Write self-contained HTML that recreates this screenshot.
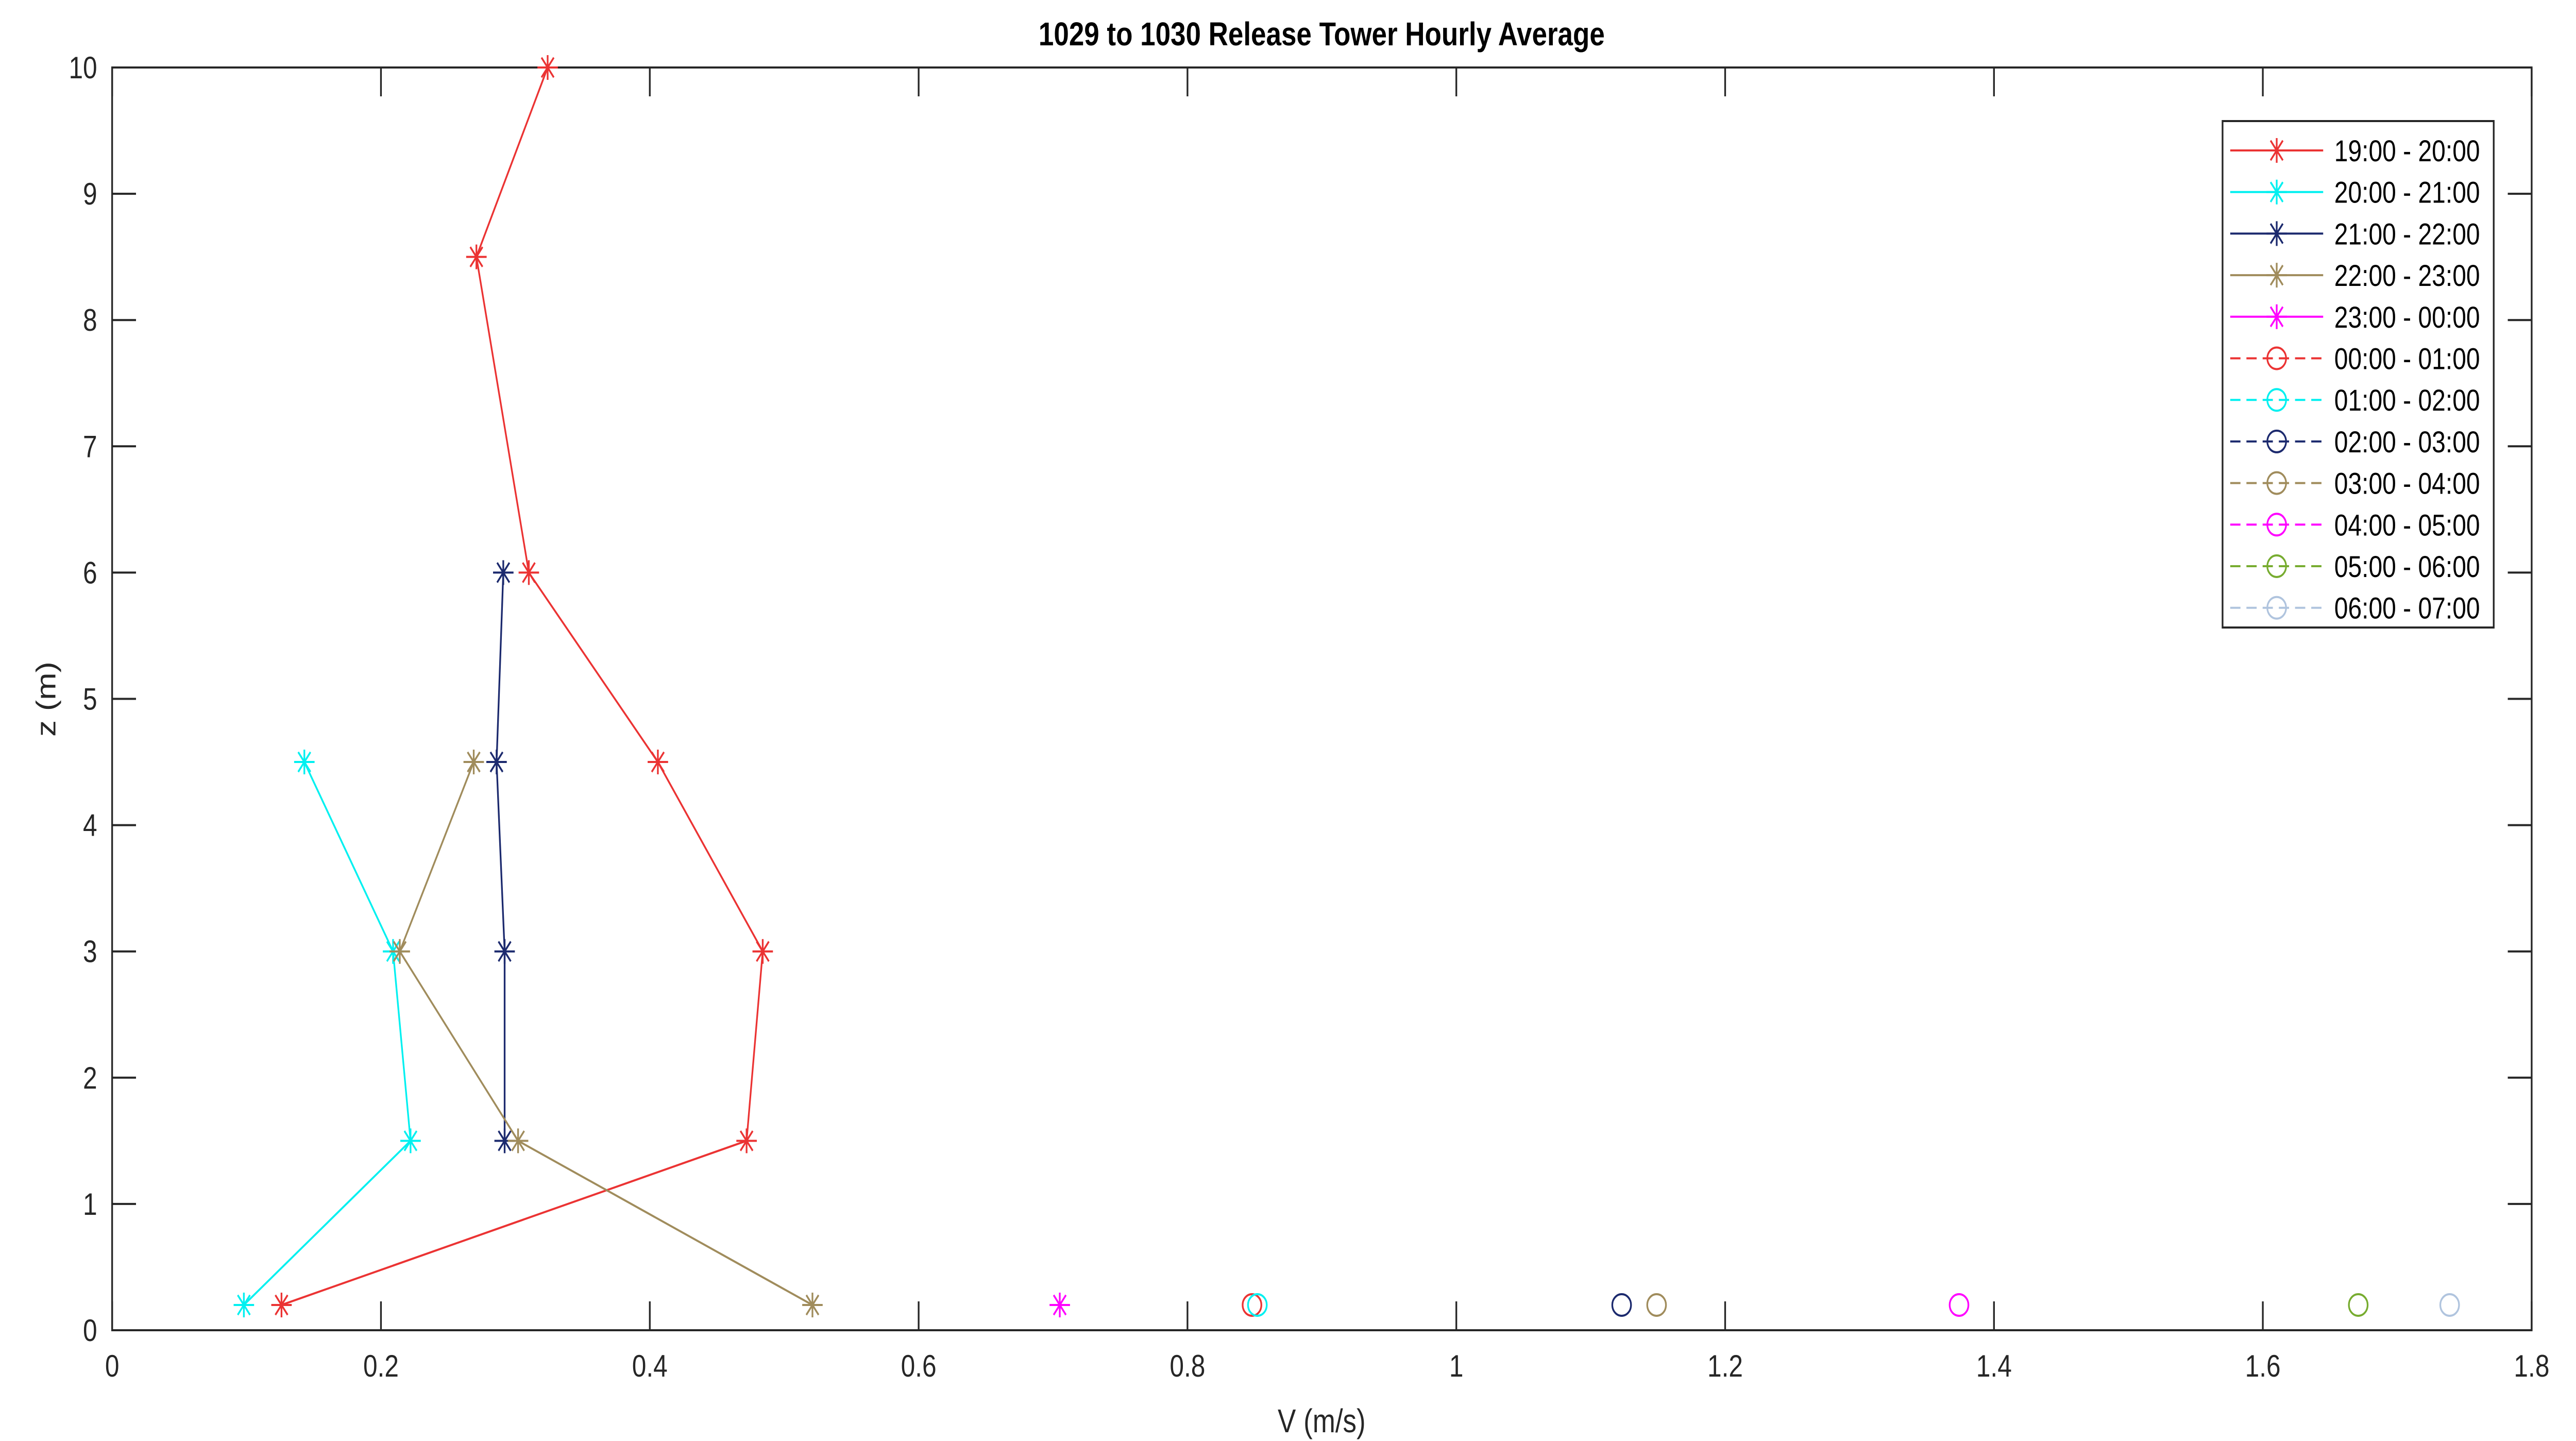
<!DOCTYPE html>
<html><head><meta charset="utf-8"><style>
html,body{margin:0;padding:0;background:#fff;overflow:hidden;width:100%;height:100%;}
svg{display:block;width:100vw;height:100vh;font-family:"Liberation Sans",Arial,sans-serif;}
</style></head><body>
<svg id="chart" viewBox="0 0 6042 2797" preserveAspectRatio="none" xmlns="http://www.w3.org/2000/svg">
<rect width="6042" height="2797" fill="#fff"/>
<g id="plot"></g>
<text x="3100" y="88" font-size="64" font-weight="bold" text-anchor="middle" fill="#000">1029 to 1030 Release Tower Hourly Average</text>
<text x="3100" y="2780" font-size="64" text-anchor="middle" fill="#262626">V (m/s)</text>
<text x="130" y="1357" font-size="64" text-anchor="middle" fill="#262626" transform="rotate(-90 130 1357)">z (m)</text>
<g id="legend"></g>
</svg>
<script>
const xTicks=[0,0.2,0.4,0.6,0.8,1,1.2,1.4,1.6,1.8];
const xTickLabels=["0","0.2","0.4","0.6","0.8","1","1.2","1.4","1.6","1.8"];
const yTicks=[0,1,2,3,4,5,6,7,8,9,10];
const seriesNames=["19:00 - 20:00","20:00 - 21:00","21:00 - 22:00","22:00 - 23:00","23:00 - 00:00","00:00 - 01:00","01:00 - 02:00","02:00 - 03:00","03:00 - 04:00","04:00 - 05:00","05:00 - 06:00","06:00 - 07:00"];
const s1V=[0.324,0.271,0.310,0.406,0.484,0.472,0.126], s1Z=[10,8.5,6,4.5,3,1.5,0.2];
const s2V=[0.143,0.209,0.222,0.098], s2Z=[4.5,3,1.5,0.2];
const s3V=[0.291,0.286,0.292,0.292], s3Z=[6,4.5,3,1.5];
const s4V=[0.269,0.214,0.302,0.521], s4Z=[4.5,3,1.5,0.2];
const s5V=[0.705], s5Z=[0.2];
const s6V=[0.848], s6Z=[0.2];
const s7V=[0.852], s7Z=[0.2];
const s8V=[1.123], s8Z=[0.2];
const s9V=[1.149], s9Z=[0.2];
const s10V=[1.374], s10Z=[0.2];
const s11V=[1.671], s11Z=[0.2];
const s12V=[1.739], s12Z=[0.2];

const NS="http://www.w3.org/2000/svg";
const L=263,R=5938,T=131,B=2582;
const xs=v=>L+(v-0)/(1.8-0)*(R-L);
const ys=z=>B-(z-0)/(10-0)*(B-T);
const colors=["#eb3333","#00f0f0","#1c2a6e","#a08c5c","#ff00ff","#eb3333","#00f0f0","#1c2a6e","#a08c5c","#ff00ff","#77ac30","#b0c4de"];
const allV=[s1V,s2V,s3V,s4V,s5V,s6V,s7V,s8V,s9V,s10V,s11V,s12V];
const allZ=[s1Z,s2Z,s3Z,s4Z,s5Z,s6Z,s7Z,s8Z,s9Z,s10Z,s11Z,s12Z];
function mk(tag,attrs,parent){const e=document.createElementNS(NS,tag);for(const k in attrs)e.setAttribute(k,attrs[k]);parent.appendChild(e);return e;}
function star(g,x,y,c,r){
  mk('path',{d:`M${x-r} ${y}H${x+r}M${x} ${y-r}V${y+r}M${x-r*0.6} ${y-r*0.8}L${x+r*0.6} ${y+r*0.8}M${x-r*0.6} ${y+r*0.8}L${x+r*0.6} ${y-r*0.8}`,stroke:c,'stroke-width':4,fill:'none'},g);
}
function circ(g,x,y,c){mk('ellipse',{cx:x,cy:y,rx:22,ry:21,stroke:c,'stroke-width':4,fill:'none'},g);}
const plot=document.getElementById('plot');
const box=mk('rect',{x:L,y:T,width:R-L,height:B-T,fill:'none',stroke:'#262626','stroke-width':4},plot);


xTicks.forEach((t,i)=>{
  const x=xs(t);
  const tk=mk('path',{d:`M${x} ${B}V${B-56}M${x} ${T}V${T+56}`,stroke:'#262626','stroke-width':4},plot);
  
  
  const tl=mk('text',{x:x,y:B+90,'font-size':60,'text-anchor':'middle',fill:'#262626'},plot);
  tl.textContent=xTickLabels[i];
  
  
});
yTicks.forEach(t=>{
  const y=ys(t);
  const tk=mk('path',{d:`M${L} ${y}H${L+56}M${R} ${y}H${R-56}`,stroke:'#262626','stroke-width':4},plot);
  
  
  const tl=mk('text',{x:L-35,y:y+21,'font-size':60,'text-anchor':'end',fill:'#262626'},plot);
  tl.textContent=String(t);
  
  
});
allV.forEach((vs,si)=>{
  const g=mk('g',{},plot);
  
  
  const c=colors[si];
  const pts=vs.map((v,i)=>[xs(v),ys(allZ[si][i])]);
  if(pts.length>1){
    const ln=mk('polyline',{points:pts.map(p=>p.join(',')).join(' '),stroke:c,'stroke-width':4,fill:'none','stroke-dasharray':si>=5?'24 14':'none'},g);
    
    
  }
  pts.forEach(p=>{ if(si<5) star(g,p[0],p[1],c,24); else circ(g,p[0],p[1],c); });
});
const lg=document.getElementById('legend');
const LX=5213,LY=235,LW=636,LH=983;
const lb=mk('rect',{x:LX,y:LY,width:LW,height:LH,fill:'#fff',stroke:'#262626','stroke-width':4},lg);


seriesNames.forEach((n,i)=>{
  const y=LY+57+i*80.7;
  const g=mk('g',{},lg);
  
  
  const c=colors[i];
  mk('line',{x1:LX+18,x2:LX+236,y1:y,y2:y,stroke:c,'stroke-width':4,'stroke-dasharray':i>=5?'24 14':'none'},g);
  if(i<5) star(g,LX+127,y,c,24); else circ(g,LX+127,y,c);
  const t=mk('text',{x:LX+262,y:y+21,'font-size':58,fill:'#000'},g);
  t.textContent=n;
});
</script>
</body></html>
